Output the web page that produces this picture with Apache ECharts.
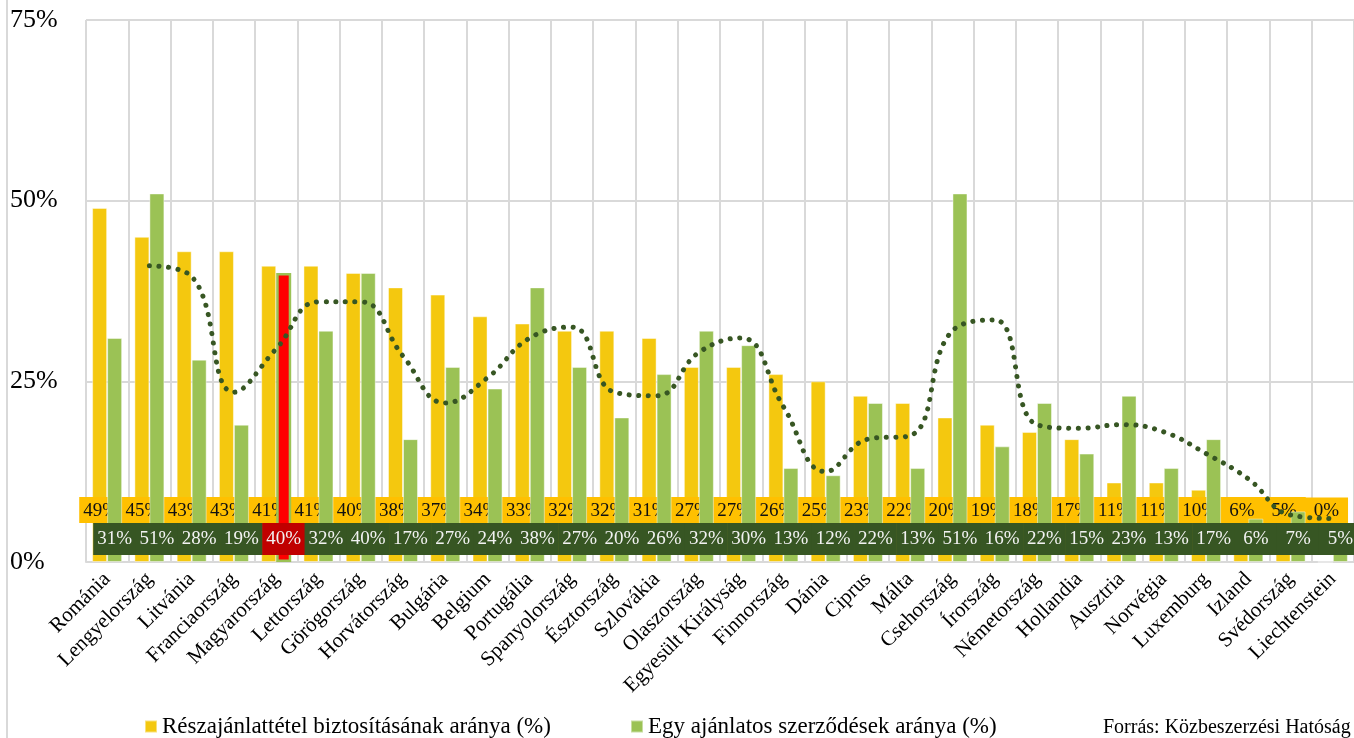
<!DOCTYPE html>
<html>
<head>
<meta charset="utf-8">
<script src="https://cdn.jsdelivr.net/npm/echarts@6/dist/echarts.min.js"></script>
<style>
  html, body { margin: 0; padding: 0; background: #fff; }
  #chart { width: 1354px; height: 738px; }
</style>
</head>
<body>
<div id="chart"></div>
<script>
// Országok, csökkenő részajánlattételi arány szerint
const countries = ['Románia', 'Lengyelország', 'Litvánia', 'Franciaország', 'Magyarország', 'Lettország',
  'Görögország', 'Horvátország', 'Bulgária', 'Belgium', 'Portugália', 'Spanyolország', 'Észtország',
  'Szlovákia', 'Olaszország', 'Egyesült Királyság', 'Finnország', 'Dánia', 'Ciprus', 'Málta',
  'Csehország', 'Írország', 'Németország', 'Hollandia', 'Ausztria', 'Norvégia', 'Luxemburg',
  'Izland', 'Svédország', 'Liechtenstein'];

// Részajánlattétel biztosításának aránya (%)
const partialBids = [49, 45, 43, 43, 41, 41, 40, 38, 37, 34, 33, 32, 32, 31, 27, 27, 26, 25, 23, 22,
  20, 19, 18, 17, 11, 11, 10, 6, 5, 0];

// Egy ajánlatos szerződések aránya (%)
const singleBid = [31, 51, 28, 19, 40, 32, 40, 17, 27, 24, 38, 27, 20, 26, 32, 30, 13, 12, 22, 13,
  51, 16, 22, 15, 23, 13, 17, 6, 7, 5];

// Kétpontos mozgóátlag az egy ajánlatos arányra (pontozott trendvonal)
const singleBidTrend = [null, 41, 39.5, 23.5, 29.5, 36, 36, 28.5, 22, 25.5, 31, 32.5, 23.5, 23, 29, 31,
  21.5, 12.5, 17, 17.5, 32, 33.5, 19, 18.5, 19, 18, 15, 11.5, 6.5, 6];

const yTicks = [0, 25, 50, 75];
const highlighted = 'Magyarország';
const seriesNames = ['Részajánlattétel biztosításának aránya (%)', 'Egy ajánlatos szerződések aránya (%)'];

const SERIF = 'Liberation Serif';
const YELLOW = '#F4C80F';
const GREEN = '#9BC255';
const DARK_GREEN = '#375623';
const GRID_GRAY = '#D9D9D9';

// Egyjegyű értékeknél szélesebb oldalsó kitöltés, hogy a címkesáv folytonos maradjon
const sidePad = v => (v < 10 ? 9 : 4);

const yellowData = partialBids.map(v => ({
  value: v,
  label: { padding: [4, sidePad(v), 2, sidePad(v)] }
}));

const greenData = singleBid.map((v, i) => {
  const item = { value: v, label: { padding: [5, sidePad(v), 5, sidePad(v)] } };
  if (countries[i] === highlighted) {
    item.itemStyle = { color: '#FF0000', borderColor: GREEN, borderWidth: 2.5 };
    item.label.backgroundColor = '#C00000';
  }
  return item;
});

const chart = echarts.init(document.getElementById('chart'), null, { renderer: 'canvas' });

chart.setOption({
  animation: false,
  backgroundColor: '#fff',
  textStyle: { fontFamily: SERIF },
  grid: { left: 86, right: 0, top: 20, bottom: 176, containLabel: false },
  graphic: [
    {
      type: 'rect',
      shape: { x: 7, y: -10, width: 1400, height: 800 },
      style: { fill: 'none', stroke: GRID_GRAY, lineWidth: 2 },
      silent: true, z: -1
    },
    {
      type: 'text',
      left: 1103, top: 718,
      style: { text: 'Forrás: Közbeszerzési Hatóság', fontFamily: SERIF, fontSize: 20, fill: '#000' }
    }
  ],
  legend: [
    {
      data: [seriesNames[0]],
      left: 139, top: 710,
      icon: 'rect', itemWidth: 12, itemHeight: 12, itemGap: 4,
      textStyle: { fontFamily: SERIF, fontSize: 23, color: '#000' }
    },
    {
      data: [seriesNames[1]],
      left: 625, top: 710,
      icon: 'rect', itemWidth: 12, itemHeight: 12, itemGap: 4,
      textStyle: { fontFamily: SERIF, fontSize: 23, color: '#000' }
    }
  ],
  xAxis: {
    type: 'category',
    data: countries,
    boundaryGap: true,
    axisLine: { show: true, lineStyle: { color: GRID_GRAY, width: 2 } },
    axisTick: { show: false },
    splitLine: { show: true, interval: 0, lineStyle: { color: GRID_GRAY, width: 2 } },
    axisLabel: {
      interval: 0, rotate: 45, margin: 14,
      fontFamily: SERIF, fontSize: 21, color: '#000'
    }
  },
  yAxis: {
    type: 'value',
    min: yTicks[0], max: yTicks[yTicks.length - 1], interval: 25,
    axisLine: { show: false },
    axisTick: { show: false },
    splitLine: { show: true, lineStyle: { color: GRID_GRAY, width: 2 } },
    axisLabel: {
      formatter: '{value}%', align: 'left', margin: 76,
      fontFamily: SERIF, fontSize: 26, color: '#000'
    }
  },
  series: [
    {
      name: seriesNames[0],
      type: 'bar',
      data: yellowData,
      barGap: '0%',
      barCategoryGap: '29%',
      itemStyle: { color: YELLOW, borderColor: 'rgba(255,255,255,0.45)', borderWidth: 1 },
      label: {
        show: true, position: 'insideBottom', distance: 39, offset: [1, 0],
        formatter: '{c}%',
        fontFamily: SERIF, fontSize: 19, color: '#111',
        backgroundColor: '#FFC000',
        lineHeight: 20
      },
      z: 2
    },
    {
      name: seriesNames[1],
      type: 'bar',
      data: greenData,
      itemStyle: { color: GREEN, borderColor: 'rgba(255,255,255,0.45)', borderWidth: 1 },
      label: {
        show: true, position: 'insideBottom', distance: 7,
        formatter: '{c}%',
        fontFamily: SERIF, fontSize: 19, color: '#F2F2F2',
        backgroundColor: DARK_GREEN,
        lineHeight: 22
      },
      z: 3
    },
    {
      name: 'Mozgóátlag',
      type: 'line',
      data: singleBidTrend,
      smooth: 0.45,
      symbol: 'none',
      connectNulls: false,
      lineStyle: { color: DARK_GREEN, width: 5, type: [0.1, 9.5], cap: 'round' },
      z: 5
    }
  ]
});
</script>
</body>
</html>
